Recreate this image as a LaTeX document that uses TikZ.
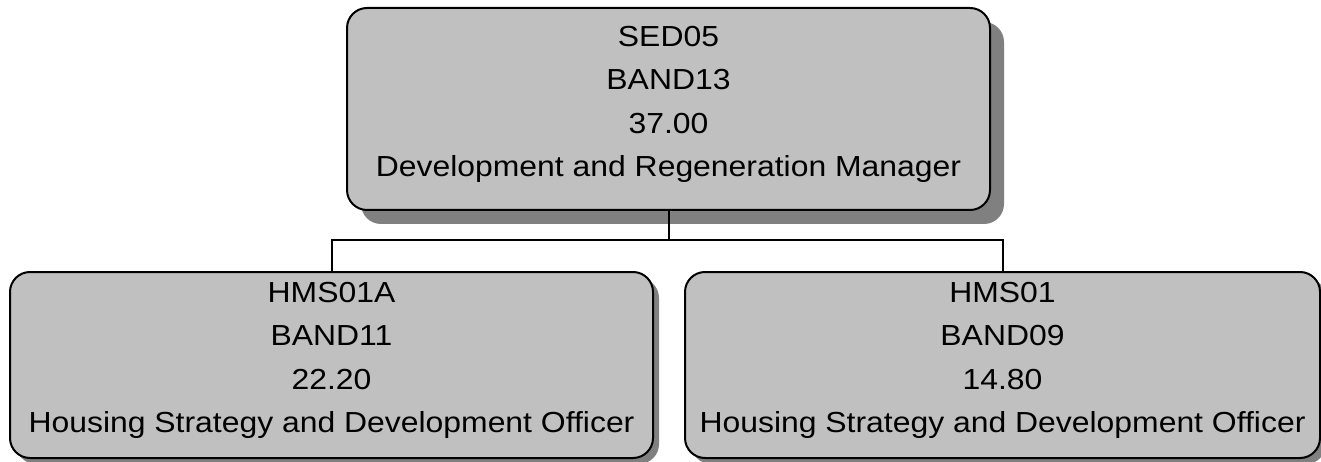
\documentclass[tikz,border=0pt]{standalone}
\usepackage{fontspec}
\setmainfont{Liberation Sans}[FakeStretch=1.1]
\usetikzlibrary{shadows}
\definecolor{boxgray}{RGB}{192,192,192}
\definecolor{shadegray}{RGB}{128,128,128}

\begin{document}
\begin{tikzpicture}[x=1pt,y=-1pt]
    % --- styles ---
    \tikzset{
      post/.style={draw=black,line width=2pt,fill=boxgray,rounded corners=20pt,
        align=center,inner sep=0pt,font=\fontsize{29}{43.5}\selectfont,
        execute at end node={\rule[-15pt]{0pt}{0pt}}},
      shade/.style={drop shadow={shadow xshift=#1,shadow yshift=-#1,
        fill=shadegray,opacity=1}},
      link/.style={line width=2pt}
    }
    \useasboundingbox (0,0) rectangle (1321,462);

    % manager post
    \node[post,shade=14pt,minimum width=643pt,minimum height=202pt] (manager) at (668.5,109)
      {SED05\\BAND13\\37.00\\Development and Regeneration Manager};

    % officer posts
    \node[post,shade=6pt,minimum width=643pt,minimum height=186pt] (officerA) at (331.5,365)
      {HMS01A\\BAND11\\22.20\\Housing Strategy and Development Officer};
    \node[post,shade=6pt,minimum width=635pt,minimum height=186pt] (officerB) at (1002.5,365)
      {HMS01\\BAND09\\14.80\\Housing Strategy and Development Officer};

    % reporting lines
    \coordinate (bus) at (668.5,240);
    \draw[link] (manager.south) -- (bus) -| (officerA.north);
    \draw[link] (bus) -| (officerB.north);
\end{tikzpicture}
\end{document}
